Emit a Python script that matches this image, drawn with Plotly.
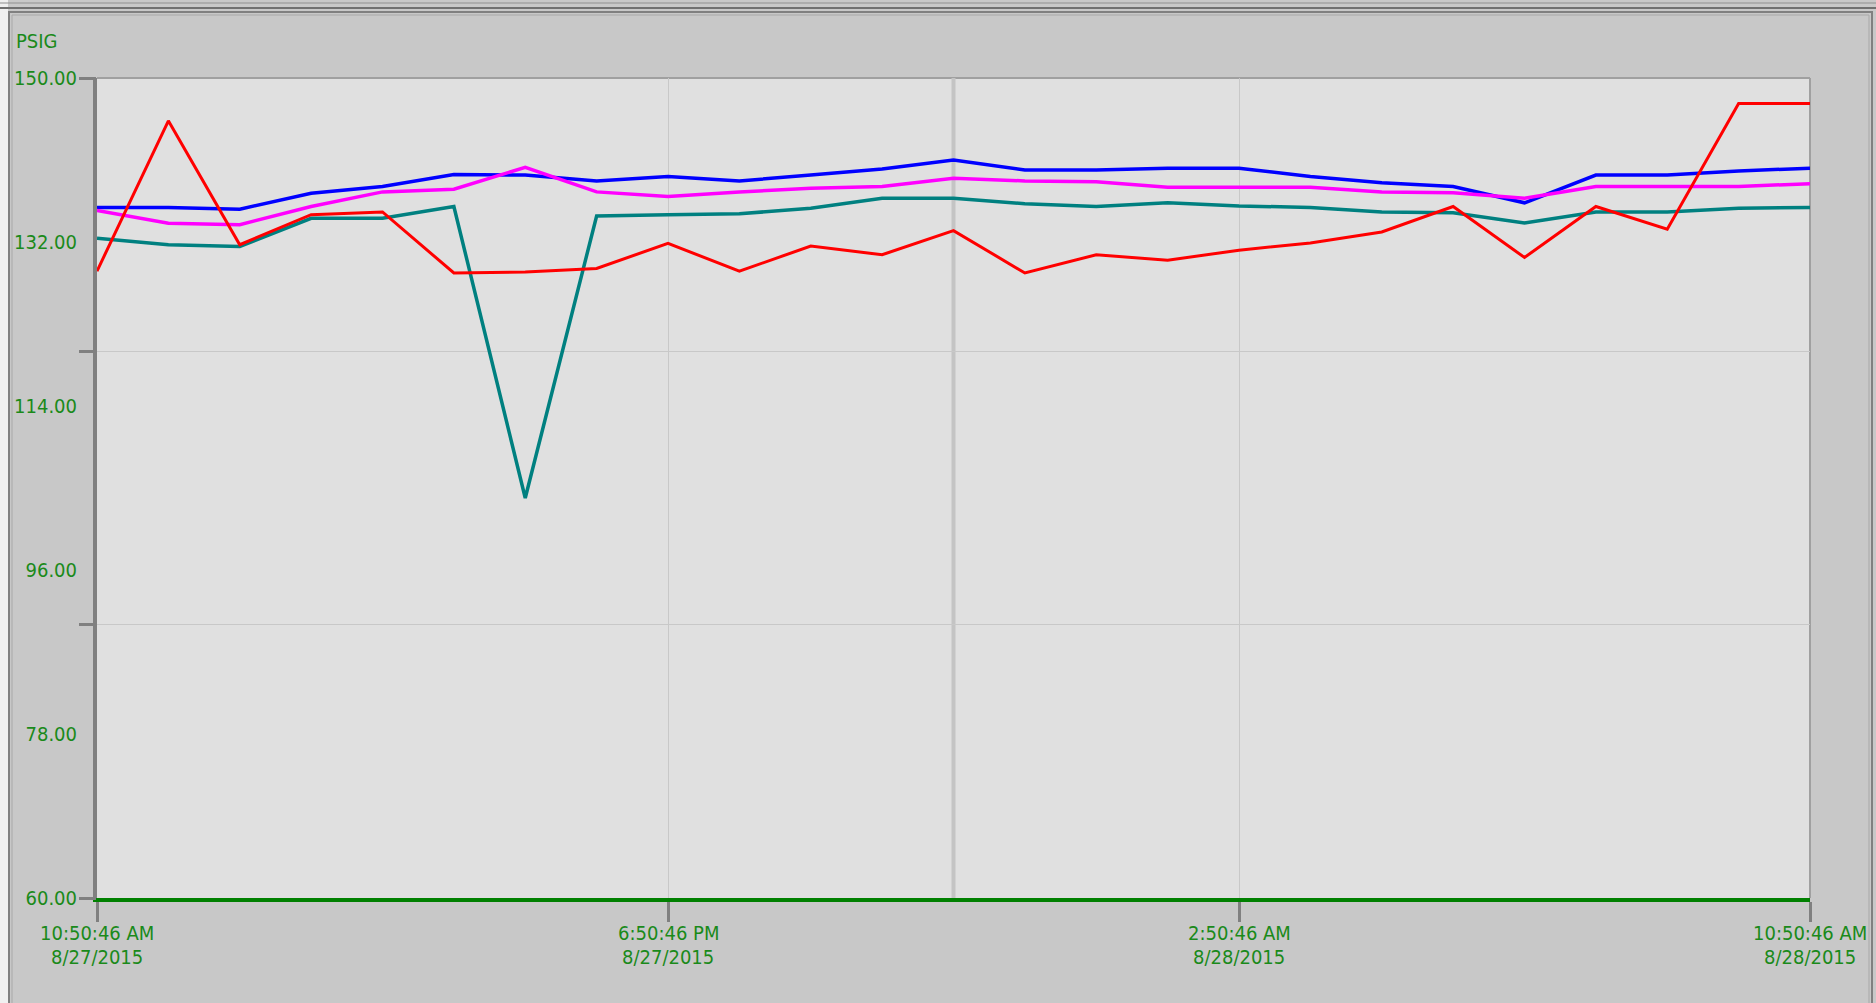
import plotly.graph_objects as go
from datetime import datetime, timedelta

# ---- data ----
start = datetime(2015, 8, 27, 10, 50, 46)
times = [start + timedelta(hours=h) for h in range(25)]

red = [128.8, 145.3, 131.7, 135.0, 135.3, 128.6, 128.7, 129.1, 131.85, 128.8,
       131.55, 130.6, 133.25, 128.6, 130.6, 130.0, 131.1, 131.9, 133.1, 135.9,
       130.3, 135.9, 133.4, 147.2, 147.2]
blue = [135.8, 135.8, 135.6, 137.35, 138.1, 139.4, 139.35, 138.7, 139.2, 138.7,
        139.35, 140.0, 141.0, 139.9, 139.9, 140.1, 140.1, 139.2, 138.5, 138.1,
        136.3, 139.35, 139.35, 139.8, 140.1]
magenta = [135.45, 134.05, 133.9, 135.9, 137.5, 137.8, 140.2, 137.5, 137.0, 137.5,
           137.9, 138.1, 139.0, 138.7, 138.6, 138.0, 138.0, 138.0, 137.5, 137.4,
           136.8, 138.1, 138.1, 138.1, 138.4]
teal = [132.4, 131.7, 131.5, 134.6, 134.6, 135.9, 103.9, 134.85, 135.0, 135.1,
        135.7, 136.8, 136.8, 136.2, 135.9, 136.3, 135.95, 135.8, 135.3, 135.2,
        134.1, 135.3, 135.3, 135.7, 135.8]

y_label_vals = [150, 132, 114, 96, 78, 60]
y_label_text = ["150.00", "132.00", "114.00", "96.00", "78.00", "60.00"]
y_grid_vals = [60, 90, 120, 150]
x_tick_vals = [times[0], times[8], times[16], times[24]]
x_tick_time = ["10:50:46 AM", "6:50:46 PM", "2:50:46 AM", "10:50:46 AM"]
x_tick_date = ["8/27/2015", "8/27/2015", "8/28/2015", "8/28/2015"]
cursor_time = times[12]

GREEN = "#1a8a1a"
FONT = "DejaVu Sans Condensed, DejaVu Sans, sans-serif"
FS = 20

fig = go.Figure()
# dummy trace to carry the grid/tick axis
fig.add_trace(go.Scatter(x=[times[0]], y=[60], yaxis="y2", mode="lines",
                         showlegend=False, hoverinfo="skip"))
for vals, col, w in [(teal, "#008080", 3.5), (blue, "#0000ff", 3.5),
                     (magenta, "#ff00ff", 3.5), (red, "#ff0000", 3)]:
    fig.add_trace(go.Scatter(x=times, y=vals, mode="lines",
                             line=dict(color=col, width=w, shape="linear"),
                             showlegend=False))

L, R, T, B = 97, 66, 78, 105
W, H = 1876, 1003
pw, ph = W - L - R, H - T - B

def px(x):
    return (x - L) / pw

def py(y):
    return (H - B - y) / ph

shapes = []
# outer window frame
shapes.append(dict(type="rect", xref="paper", yref="paper", x0=px(0), x1=px(8),
                   y0=py(1003), y1=py(0), fillcolor="#f0f0f0", line=dict(width=0), layer="below"))
shapes.append(dict(type="line", xref="paper", yref="paper", x0=px(0), x1=px(1876),
                   y0=py(3), y1=py(3), line=dict(color="#909090", width=1), layer="below"))
shapes.append(dict(type="rect", xref="paper", yref="paper", x0=px(9), x1=px(1872),
                   y0=py(1010), y1=py(12), fillcolor="rgba(0,0,0,0)",
                   line=dict(color="#808080", width=2), layer="below"))
shapes.append(dict(type="rect", xref="paper", yref="paper", x0=px(12), x1=px(1869),
                   y0=py(1010), y1=py(15), fillcolor="rgba(0,0,0,0)",
                   line=dict(color="#a8a8a8", width=1), layer="below"))
shapes.append(dict(type="line", xref="paper", yref="paper", x0=px(0), x1=px(1876),
                   y0=py(8), y1=py(8), line=dict(color="#707070", width=2), layer="below"))
# plot area top and right borders
shapes.append(dict(type="line", xref="paper", yref="paper", x0=0, x1=1, y0=1, y1=1,
                   line=dict(color="#a0a0a0", width=2), layer="below"))
shapes.append(dict(type="line", xref="paper", yref="paper", x0=1, x1=1, y0=0, y1=1,
                   line=dict(color="#a0a0a0", width=2), layer="below"))
# cursor line
shapes.append(dict(type="line", xref="x", yref="paper", x0=cursor_time, x1=cursor_time,
                   y0=0, y1=1, line=dict(color="#c4c4c4", width=4), layer="below"))

annotations = [dict(text="PSIG", xref="paper", yref="paper", x=px(14), y=py(41),
                    xanchor="left", yanchor="middle", showarrow=False,
                    font=dict(family=FONT, size=FS, color=GREEN))]
for tv, tt, td in zip(x_tick_vals, x_tick_time, x_tick_date):
    annotations.append(dict(text=tt, xref="x", yref="paper", x=tv, y=0, yshift=-35,
                            xanchor="center", yanchor="middle", showarrow=False,
                            font=dict(family=FONT, size=FS, color=GREEN)))
    annotations.append(dict(text=td, xref="x", yref="paper", x=tv, y=0, yshift=-59,
                            xanchor="center", yanchor="middle", showarrow=False,
                            font=dict(family=FONT, size=FS, color=GREEN)))

fig.update_layout(
    width=W, height=H,
    margin=dict(l=L, r=R, t=T, b=B, pad=0, autoexpand=False),
    paper_bgcolor="#c8c8c8",
    plot_bgcolor="#e0e0e0",
    showlegend=False,
    xaxis=dict(range=[times[0], times[24]], tickvals=x_tick_vals,
               ticktext=["", "", "", ""], ticks="outside", ticklen=20, tickwidth=3,
               tickcolor="#808080", showgrid=True, gridcolor="#c8c8c8", gridwidth=1,
               showline=True, linecolor="#008000", linewidth=4, zeroline=False,
               automargin=False, fixedrange=True),
    yaxis=dict(range=[60, 150], tickvals=y_label_vals, ticktext=y_label_text,
               ticks="outside", ticklen=12, tickcolor="rgba(0,0,0,0)",
               showgrid=False, zeroline=False, showline=True, linecolor="#808080",
               linewidth=4, automargin=False,
               tickfont=dict(family=FONT, size=FS, color=GREEN)),
    yaxis2=dict(range=[60, 150], overlaying="y", side="left", tickvals=y_grid_vals,
                showticklabels=False, ticks="outside", ticklen=17, tickwidth=3,
                tickcolor="#808080", showgrid=True, gridcolor="#c8c8c8", gridwidth=1,
                zeroline=False, showline=False, automargin=False),
    shapes=shapes,
    annotations=annotations,
)

fig.write_html("out.html", config={"displayModeBar": False},
               post_script="document.body.style.margin='0';")
